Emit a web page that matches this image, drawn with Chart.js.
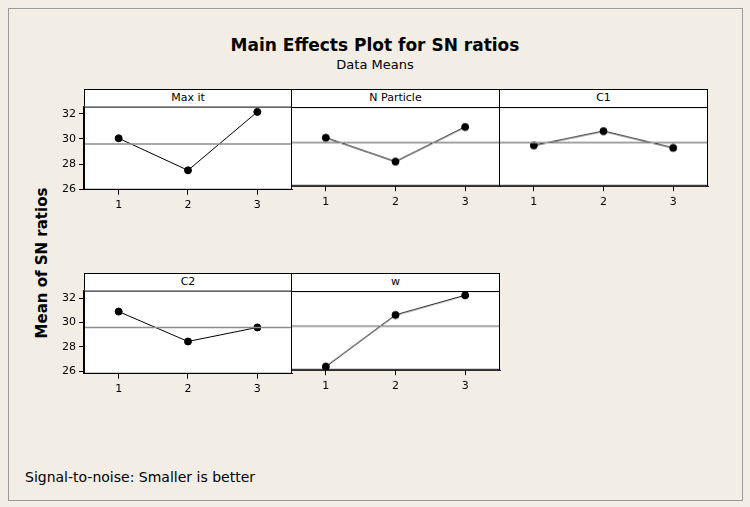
<!DOCTYPE html>
<html><head><meta charset="utf-8">
<script src="https://cdn.jsdelivr.net/npm/chart.js@4.4.0/dist/chart.umd.min.js"></script>
<style>
body{margin:0;background:#f3eee5;font-family:"DejaVu Sans",sans-serif;}
#frame{position:absolute;left:8px;top:8px;width:733px;height:491px;border:1px solid #9a9a9a;background:#f3eee5;}
.t{position:absolute;white-space:nowrap;color:#000;}
.hdr{position:absolute;background:#fff;border:1px solid #000;box-sizing:border-box;font-size:11px;text-align:center;line-height:16px;}
canvas{position:absolute;}
</style></head><body>
<div id="frame"></div>
<div class="t" style="left:0;width:750px;top:35px;text-align:center;font-weight:bold;font-size:17px">Main Effects Plot for SN ratios</div>
<div class="t" style="left:0;width:750px;top:57px;text-align:center;font-size:13px">Data Means</div>
<div class="t" style="left:42px;top:263px;font-weight:bold;font-size:15px;transform:translate(-50%,-50%) rotate(-90deg)">Mean of SN ratios</div>
<div class="t" style="left:25px;top:469px;font-size:14px">Signal-to-noise: Smaller is better</div>
<script>
// Data
const factors = ['Max it', 'N Particle', 'C1', 'C2', 'w'];
const levels = [1, 2, 3];
const maxIt = [30.05, 27.5, 32.15];
const nParticle = [30.0, 28.0, 30.9];
const c1 = [29.35, 30.55, 29.15];
const c2 = [30.9, 28.45, 29.6];
const w = [26.1, 30.55, 32.25];
const series = [maxIt, nParticle, c1, c2, w];
const grandMean = 29.6;
const yTicks = [26, 28, 30, 32];

// Panel layout (plot box in page pixels)
const cols = [[84, 208], [291, 209], [499, 209]];
const rows = [{hdr: 89, top: 107, h: 140, min: 25.95, max: 32.57}, {hdr: 273, top: 291, h: 146, min: 25.8, max: 32.62}];

const frameBox = {
  id: 'frameBox',
  beforeDraw(c) {
    const a = c.chartArea, ctx = c.ctx;
    ctx.save(); ctx.fillStyle = '#fff'; ctx.fillRect(a.left, a.top, a.right - a.left, a.bottom - a.top); ctx.restore();
  },
  afterDraw(c) {
    const a = c.chartArea, ctx = c.ctx;
    ctx.save(); ctx.strokeStyle = '#000'; ctx.lineWidth = 1;
    ctx.strokeRect(a.left + 0.5, a.top + 0.5, a.right - a.left - 1, a.bottom - a.top - 1); ctx.restore();
  }
};

factors.forEach((name, i) => {
  const r = rows[Math.floor(i / 3)], col = cols[i % 3], first = i % 3 === 0;
  const hdr = document.createElement('div');
  hdr.className = 'hdr'; hdr.textContent = name;
  Object.assign(hdr.style, {left: col[0] + 'px', top: r.hdr + 'px', width: col[1] + 'px', height: (r.top - r.hdr + 1) + 'px'});
  document.body.appendChild(hdr);
  const box = document.createElement('div');
  box.style.position = 'absolute';
  const cv = document.createElement('canvas');
  box.appendChild(cv);
  document.body.appendChild(box);
  const place = (l, t, wd, ht) => Object.assign(box.style, {left: l + 'px', top: t + 'px', width: wd + 'px', height: ht + 'px'});
  place(col[0] - 50, r.top - 10, col[1] + 60, r.h + 45);
  const chart = new Chart(cv, {
    type: 'line',
    data: {datasets: [
      {data: [{x: 0.5, y: grandMean}, {x: 3.5, y: grandMean}], borderColor: '#8c8c8c', borderWidth: 1.5, pointRadius: 0},
      {data: levels.map((l, k) => ({x: l, y: series[i][k]})), borderColor: '#000', borderWidth: 1,
       pointRadius: 3.5, pointBackgroundColor: '#000', pointBorderColor: '#000', tension: 0}
    ]},
    options: {
      responsive: false, animation: false, devicePixelRatio: 1,
      plugins: {legend: {display: false}, tooltip: {enabled: false}},
      scales: {
        x: {type: 'linear', min: 0.5, max: 3.5, afterBuildTicks: s => { s.ticks = levels.map(v => ({value: v})); },
            grid: {drawOnChartArea: false, drawTicks: true, tickLength: 5, color: '#000'}, border: {color: '#000'},
            ticks: {color: '#000', font: {size: 11, family: 'DejaVu Sans'}, padding: 4}},
        y: {display: first, min: r.min, max: r.max, afterBuildTicks: s => { s.ticks = yTicks.map(v => ({value: v})); },
            grid: {drawOnChartArea: false, drawTicks: true, tickLength: 5, color: '#000'}, border: {color: '#000'},
            ticks: {color: '#000', font: {size: 11, family: 'DejaVu Sans'}, padding: 3}}
      }
    },
    plugins: [frameBox]
  });
  // align the chart area to the panel box
  for (let k = 0; k < 2; k++) {
    const a = chart.chartArea;
    const padL = a.left, padT = a.top, padR = chart.width - a.right, padB = chart.height - a.bottom;
    const wd = col[1] + padL + padR, ht = r.h + padT + padB;
    place(col[0] - padL, r.top - padT, wd, ht);
    chart.resize(wd, ht);
  }
});
</script>
</body></html>
